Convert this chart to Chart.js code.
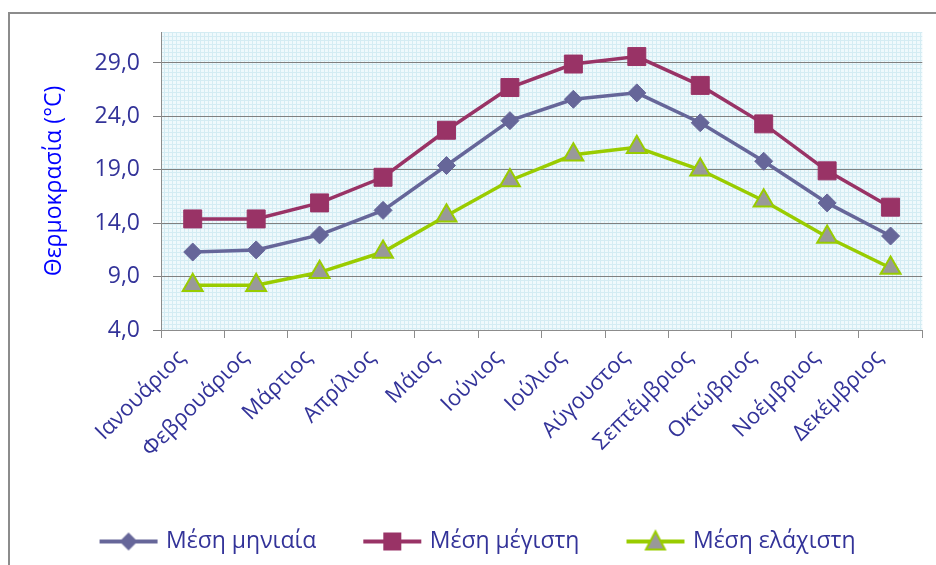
<!DOCTYPE html>
<html>
<head>
<meta charset="utf-8">
<script src="https://cdn.jsdelivr.net/npm/chart.js@4"></script>
<style>
  html, body { margin: 0; padding: 0; background: #fff; }
  #wrap { width: 936px; height: 565px; position: relative; }
</style>
</head>
<body>
<div id="wrap"><canvas id="tempChart" width="936" height="565"></canvas></div>
<script>
  "use strict";

  // months and monthly temperatures (°C)
  var months = [
    "Ιανουάριος", "Φεβρουάριος", "Μάρτιος", "Απρίλιος", "Μάιος", "Ιούνιος",
    "Ιούλιος", "Αύγουστος", "Σεπτέμβριος", "Οκτώβριος", "Νοέμβριος", "Δεκέμβριος"
  ];
  var meanTemp = [11.3, 11.5, 12.9, 15.2, 19.4, 23.6, 25.6, 26.2, 23.4, 19.8, 15.9, 12.8];
  var maxTemp  = [14.4, 14.4, 15.9, 18.3, 22.7, 26.7, 28.9, 29.6, 26.9, 23.3, 18.9, 15.5];
  var minTemp  = [8.2, 8.2, 9.4, 11.3, 14.7, 18.0, 20.4, 21.1, 19.0, 16.1, 12.7, 9.8];
  var yTicks   = [4, 9, 14, 19, 24, 29];

  var FONT = "'Open Sans', 'Noto Sans', sans-serif";
  var NAVY = "#333399";

  // small line+marker picture for the legend
  function legendIcon(style, fill, stroke) {
    var c = document.createElement("canvas");
    c.width = 60; c.height = 26;
    var g = c.getContext("2d");
    g.strokeStyle = stroke; g.lineWidth = 4;
    g.beginPath(); g.moveTo(1, 13); g.lineTo(59, 13); g.stroke();
    g.fillStyle = fill;
    g.beginPath();
    if (style === "diamond") {
      g.moveTo(30, 4); g.lineTo(39, 13); g.lineTo(30, 22); g.lineTo(21, 13);
      g.closePath(); g.fill();
    } else if (style === "square") {
      g.rect(21, 4, 18, 18); g.fill();
    } else {
      g.moveTo(30, 3); g.lineTo(39.5, 21); g.lineTo(20.5, 21); g.closePath();
      g.fill(); g.lineWidth = 2; g.strokeStyle = stroke; g.stroke();
    }
    return c;
  }

  // light blue grid texture of the plot area
  function plotPattern(ctx) {
    var p = document.createElement("canvas");
    p.width = 4; p.height = 4;
    var g = p.getContext("2d");
    g.fillStyle = "#eff9fc"; g.fillRect(0, 0, 4, 4);
    g.fillStyle = "#d4ecf3"; g.fillRect(0, 0, 4, 1); g.fillRect(0, 0, 1, 4);
    return ctx.createPattern(p, "repeat");
  }

  var frameAndBack = {
    id: "frameAndBack",
    beforeDraw: function (chart) {
      var ctx = chart.ctx, a = chart.chartArea;
      ctx.save();
      ctx.strokeStyle = "#8c8c8c"; ctx.lineWidth = 2;
      ctx.beginPath(); ctx.moveTo(9, 565); ctx.lineTo(9, 13); ctx.lineTo(936, 13); ctx.stroke();
      ctx.fillStyle = plotPattern(ctx);
      ctx.fillRect(a.left, a.top, a.right - a.left, a.bottom - a.top);
      ctx.restore();
    }
  };

  var icons = [
    legendIcon("diamond", "#666699", "#666699"),
    legendIcon("square", "#993366", "#993366"),
    legendIcon("triangle", "#999999", "#99cc00")
  ];

  var canvas = document.getElementById("tempChart");
  var ctx = canvas.getContext("2d");

  new Chart(ctx, {
    type: "line",
    data: {
      labels: months,
      datasets: [
        {
          label: "Μέση μηνιαία",
          data: meanTemp,
          borderColor: "#666699",
          backgroundColor: "#666699",
          borderWidth: 3.5,
          pointStyle: "rectRot",
          pointRadius: 9,
          pointBorderWidth: 1,
        },
        {
          label: "Μέση μέγιστη",
          data: maxTemp,
          borderColor: "#993366",
          backgroundColor: "#993366",
          borderWidth: 3.5,
          pointStyle: "rect",
          pointRadius: 12.7,
          pointBorderWidth: 1,
        },
        {
          label: "Μέση ελάχιστη",
          data: minTemp,
          borderColor: "#99cc00",
          backgroundColor: "#999999",
          pointBorderColor: "#99cc00",
          borderWidth: 3.5,
          pointStyle: "triangle",
          pointRadius: 11.5,
          pointBorderWidth: 2,
        },
      ],
    },
    options: {
      responsive: false,
      animation: false,
      layout: { padding: { left: 30, right: 8, top: 32, bottom: 2 } },
      plugins: {
        tooltip: { enabled: false },
        legend: {
          position: "bottom",
          labels: {
            usePointStyle: true,
            pointStyleWidth: 52,
            padding: 50,
            color: NAVY,
            font: { family: FONT, size: 23 },
            generateLabels: function (chart) {
              return chart.data.datasets.map(function (ds, i) {
                return {
                  text: ds.label,
                  pointStyle: icons[i],
                  fontColor: NAVY,
                  lineWidth: 0,
                  datasetIndex: i,
                };
              });
            },
          },
        },
      },
      scales: {
        x: {
          offset: true,
          grid: { offset: true, drawOnChartArea: false, drawTicks: true, tickLength: 8, color: "#8c8c8c" },
          border: { color: "#8c8c8c", width: 1 },
          ticks: {
            color: NAVY,
            font: { family: FONT, size: 22 },
            minRotation: 45,
            maxRotation: 45,
            padding: 7,
            labelOffset: -11,
          },
          afterFit: function (scale) { scale.height = 150; },
        },
        y: {
          min: 4,
          max: 31.9,
          grid: { color: "#808080", tickLength: 8, lineWidth: 1 },
          border: { color: "#8c8c8c", width: 1 },
          ticks: {
            stepSize: 5,
            padding: 13,
            color: NAVY,
            font: { family: FONT, size: 23 },
            callback: function (v) { return v.toFixed(1).replace(".", ","); },
          },
          afterBuildTicks: function (scale) {
            scale.ticks = yTicks.map(function (v) { return { value: v }; });
          },
          afterFit: function (scale) { scale.width = 131; },
          title: {
            display: true,
            text: "Θερμοκρασία (°C)",
            color: "#0000ff",
            font: { family: FONT, size: 23 },
            padding: { top: 11, bottom: 0 },
          },
        },
      },
    },
    plugins: [frameAndBack],
  });
</script>
</body>
</html>
